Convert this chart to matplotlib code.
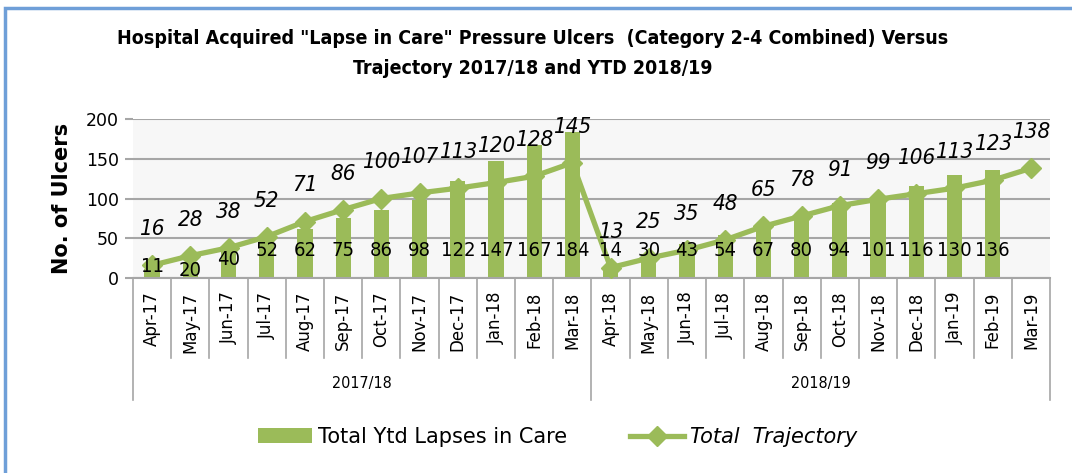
import numpy as np
import matplotlib
matplotlib.use('Agg')
import matplotlib.pyplot as plt
from matplotlib.patches import Rectangle, Patch
from matplotlib.lines import Line2D

months = ["Apr-17", "May-17", "Jun-17", "Jul-17", "Aug-17", "Sep-17", "Oct-17", "Nov-17",
          "Dec-17", "Jan-18", "Feb-18", "Mar-18", "Apr-18", "May-18", "Jun-18", "Jul-18",
          "Aug-18", "Sep-18", "Oct-18", "Nov-18", "Dec-18", "Jan-19", "Feb-19", "Mar-19"]
years = ["2017/18", "2018/19"]
ytd_lapses = [11, 20, 40, 52, 62, 75, 86, 98, 122, 147, 167, 184,
              14, 30, 43, 54, 67, 80, 94, 101, 116, 130, 136, np.nan]
trajectory = [16, 28, 38, 52, 71, 86, 100, 107, 113, 120, 128, 145,
              13, 25, 35, 48, 65, 78, 91, 99, 106, 113, 123, 138]

GREEN = '#9bbb59'
GRID = '#a6a6a6'

fig = plt.figure(figsize=(10.72, 4.73), dpi=100)
fig.patch.set_facecolor('white')

# outer chart border (cut at right/bottom like the screenshot)
fig.patches.append(Rectangle((5 / 1072, -0.2), 1.2, 1.2 - 8 / 473,
                             transform=fig.transFigure, fill=False,
                             edgecolor='#6f9fd8', lw=2.5))

ax = fig.add_axes([133 / 1072, 1 - 278 / 473, (1050 - 133) / 1072, (278 - 119) / 473])
ax.set_facecolor('#f7f7f7')
x = np.arange(len(months))

ax.bar(x, ytd_lapses, width=0.4, color=GREEN, zorder=2)
ax.plot(x, trajectory, color=GREEN, lw=3.8, marker='D', ms=10, zorder=3)

ax.set_xlim(-0.5, len(months) - 0.5)
ax.set_ylim(0, 200)
ax.set_yticks(np.arange(0, 201, 50))
ax.tick_params(axis='y', length=6, width=1.5, color=GRID, labelsize=12.5, pad=4)
ax.set_xticks([])
ax.grid(axis='y', color=GRID, lw=1.5, zorder=0)
for s in ['top', 'right', 'left']:
    ax.spines[s].set_visible(False)
ax.spines['bottom'].set_color(GRID)
ax.spines['bottom'].set_linewidth(1.5)

ax.set_ylabel("No. of Ulcers", fontsize=15, fontweight='bold', labelpad=10)

# bar labels (inside base) and trajectory labels (above)
bar_label_pos = [14, 10, 23] + [35] * 21
for i, v in enumerate(ytd_lapses):
    if not np.isnan(v):
        ax.text(x[i], bar_label_pos[i], f"{int(v)}", ha='center', va='center',
                fontsize=14.5, fontstretch='condensed', zorder=4)
for i, v in enumerate(trajectory):
    ax.annotate(f"{v}", (x[i], v), xytext=(0, 26), textcoords='offset points',
                ha='center', va='center', fontsize=16, style='italic',
                fontstretch='condensed', zorder=4, annotation_clip=False)

# category axis: month labels, separators, fiscal year groups
trans = ax.get_xaxis_transform()
for i, m in enumerate(months):
    ax.text(x[i], -0.085, m, transform=trans, rotation=90, ha='center', va='top',
            fontsize=12)
sep_month = -(358 - 278) / (278 - 119)
sep_group = -(400 - 278) / (278 - 119)
for i in range(len(months) + 1):
    depth = sep_group if i % 12 == 0 else sep_month
    ax.plot([i - 0.5, i - 0.5], [0, depth], transform=trans, color=GRID,
            lw=1.2, clip_on=False)
for g, yr in enumerate(years):
    ax.text(g * 12 + 5.5, -(383 - 278) / (278 - 119), yr, transform=trans,
            ha='center', va='center', fontsize=11.5, fontstretch='condensed')

fig.text(0.497, 1 - 38 / 473,
         'Hospital Acquired "Lapse in Care" Pressure Ulcers  (Category 2-4 Combined) Versus',
         ha='center', va='center', fontsize=14, fontweight='bold', fontstretch='condensed')
fig.text(0.497, 1 - 68 / 473, 'Trajectory 2017/18 and YTD 2018/19',
         ha='center', va='center', fontsize=14, fontweight='bold', fontstretch='condensed')

handles = [Patch(facecolor=GREEN, edgecolor='none'),
           Line2D([0], [0], color=GREEN, lw=3.8, marker='D', ms=10)]
leg = fig.legend(handles, ["Total Ytd Lapses in Care", "Total  Trajectory"],
                 loc='center', bbox_to_anchor=(0.52, 1 - 437 / 473), ncol=2,
                 frameon=False, fontsize=15, handlelength=2.6, columnspacing=3,
                 handletextpad=0.3)
leg.get_texts()[1].set_style('italic')

fig.savefig('out.png', dpi=100)
